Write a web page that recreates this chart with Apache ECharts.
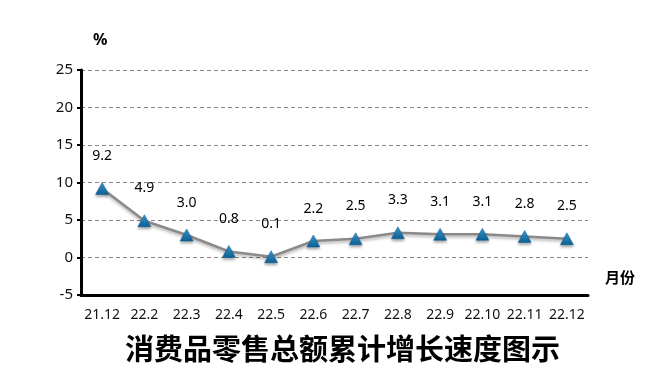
<!DOCTYPE html>
<html><head><meta charset="utf-8">
<script src="https://cdn.jsdelivr.net/npm/echarts@6/dist/echarts.min.js"></script>
<style>html,body{margin:0;padding:0;background:#fff}#c{width:670px;height:383px}</style>
</head><body><div id="c"></div>
<script>
var categories = ['21.12','22.2','22.3','22.4','22.5','22.6','22.7','22.8','22.9','22.10','22.11','22.12'];
var values = [9.2, 4.9, 3.0, 0.8, 0.1, 2.2, 2.5, 3.3, 3.1, 3.1, 2.8, 2.5];
var labels = ['9.2','4.9','3.0','0.8','0.1','2.2','2.5','3.3','3.1','3.1','2.8','2.5'];
var chart = echarts.init(document.getElementById('c'));
chart.setOption({
  animation: false,
  title: {
    text: '消费品零售总额累计增长速度图示',
    left: 120, top: 329,
    textStyle: {fontFamily: 'Noto Sans CJK SC', fontWeight: 'bold', fontSize: 29, color: '#000'}
  },
  grid: {left: 81, right: 82, top: 70, bottom: 88},
  graphic: [
    {type: 'text', left: 93, top: 32, style: {text: '%', font: 'bold 16px "Noto Sans"', fill: '#000'}},
    {type: 'text', left: 605, top: 270, style: {text: '月份', font: 'bold 15px "Noto Sans CJK SC"', fill: '#000'}}
  ],
  xAxis: {
    type: 'category', data: categories, boundaryGap: true,
    axisLine: {onZero: false, lineStyle: {color: '#000', width: 3}},
    axisTick: {show: false},
    axisLabel: {interval: 0, color: '#111', fontSize: 14, fontFamily: 'Noto Sans', margin: 13}
  },
  yAxis: {
    type: 'value', min: -5, max: 25, interval: 5,
    axisLine: {show: true, lineStyle: {color: '#000', width: 3}},
    axisTick: {show: true, length: 4, lineStyle: {color: '#000', width: 2}},
    axisLabel: {color: '#111', fontSize: 15, fontFamily: 'Noto Sans', margin: 8},
    splitLine: {lineStyle: {color: '#888', type: [4, 3], width: 1}}
  },
  series: [{
    type: 'line', data: values,
    symbol: 'triangle', symbolSize: [13, 12],
    lineStyle: {color: '#8a8a8a', width: 2.5, shadowColor: 'rgba(0,0,0,0.3)', shadowBlur: 3, shadowOffsetY: 2},
    itemStyle: {
      color: new echarts.graphic.LinearGradient(0, 0, 0, 1, [{offset: 0, color: '#3aa0d8'}, {offset: 1, color: '#0d5f95'}]),
      borderColor: '#0d5f95', borderWidth: 0.5,
      shadowColor: 'rgba(0,0,0,0.35)', shadowBlur: 3, shadowOffsetY: 2
    },
    label: {
      show: true, position: 'top', distance: 19,
      formatter: function (p) { return labels[p.dataIndex]; },
      color: '#000', fontSize: 14, fontFamily: 'Noto Sans'
    },
    z: 3
  }]
});
</script></body></html>
